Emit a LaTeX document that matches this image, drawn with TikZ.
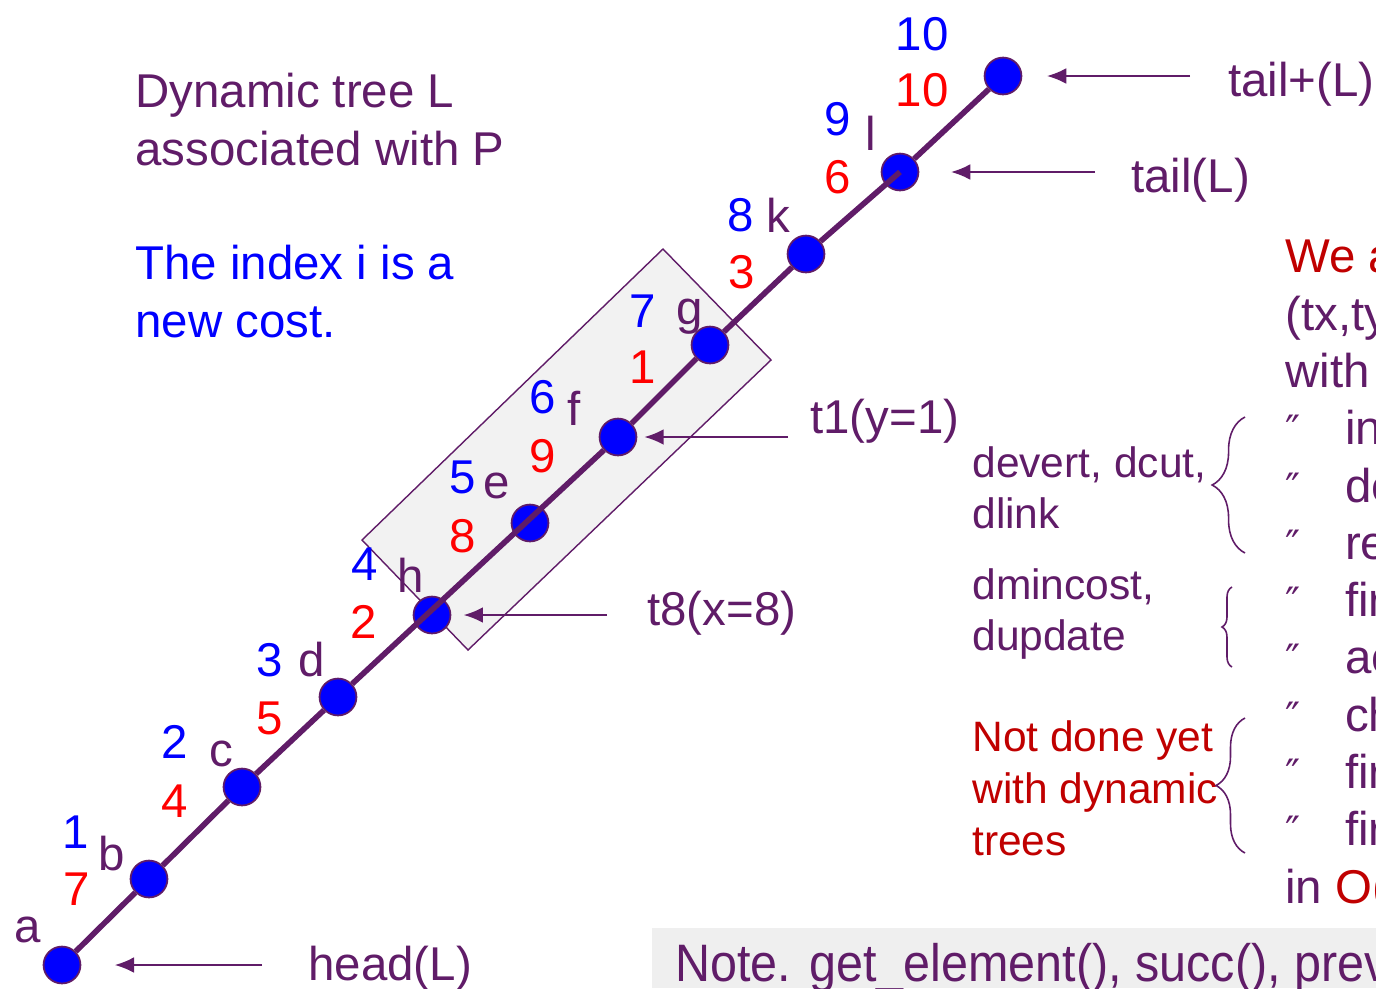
\documentclass[tikz,border=0pt]{standalone}
\usepackage{fontspec}
\setmainfont{Liberation Sans}
\newfontfamily\notefont[FakeStretch=0.92]{Liberation Sans}
\newfontfamily\symfont{DejaVu Sans}
\usetikzlibrary{arrows.meta,decorations.pathreplacing}
\definecolor{plum}{RGB}{96,28,104}
\definecolor{darkred}{RGB}{192,0,0}
\definecolor{boxgray}{RGB}{242,242,242}
\definecolor{notegray}{RGB}{239,239,239}
\newcommand{\bul}{\makebox[34pt][l]{{\symfont\fontsize{23}{23}\selectfont ″}}}

\begin{document}
\begin{tikzpicture}[x=0.02cm,y=-0.02cm,
  font=\fontsize{27}{32.6}\selectfont,
  vertex/.style={circle,fill=blue,draw=plum,line width=1pt,minimum size=21pt,inner sep=0pt},
  edgeline/.style={plum,line width=3.2pt},
  pointer/.style={plum,line width=1.2pt,-{Latex[length=11pt,width=9pt]}},
  txt/.style={inner sep=0pt,anchor=base west,align=left,text=plum},
  idx/.style={inner sep=0pt,anchor=base,text=blue},
  cost/.style={inner sep=0pt,anchor=base,text=red},
  lbl/.style={inner sep=0pt,anchor=base,text=plum},
  curly/.style={plum,line width=0.9pt,decorate,decoration={brace,amplitude=#1}}]
\useasboundingbox (0,0) rectangle (1376,988);
\clip (0,0) rectangle (1376,988);

% the selected part of the path
\filldraw[fill=boxgray,draw=plum,line width=0.8pt]
  (663,249) -- (771,360) -- (468,650) -- (362,540) -- cycle;

% vertices of the path
\node[vertex] (a) at (62,965) {};
\node[vertex] (b) at (149,879) {};
\node[vertex] (c) at (242,787) {};
\node[vertex] (d) at (338,697) {};
\node[vertex] (h) at (432,615) {};
\node[vertex] (e) at (530,523) {};
\node[vertex] (f) at (618,437) {};
\node[vertex] (g) at (710,345) {};
\node[vertex] (k) at (806,254) {};
\node[vertex] (l) at (900,172) {};
\node[vertex] (tp) at (1003,76) {};

\draw[edgeline] (a) -- (b);
\draw[edgeline] (b) -- (c);
\draw[edgeline] (c) -- (d);
\draw[edgeline] (d) -- (f);
\draw[edgeline] (f) -- (g);
\draw[edgeline] (g) -- (k);
\draw[edgeline] (k) -- (l.center);
\draw[edgeline] (l) -- (tp);

% names, indices and costs
\node[lbl] (na) at (28,942) {a};
\node[idx] (ib) at (76,848) {1};
\node[cost] (cb) at (77,905) {7};
\node[lbl] (nb) at (112,870) {b};
\node[idx] (ic) at (175,758) {2};
\node[cost] (cc) at (175,817) {4};
\node[lbl] (nc) at (221,766) {c};
\node[idx] (id) at (270,676) {3};
\node[cost] (cd) at (270,734) {5};
\node[lbl] (nd) at (312,676) {d};
\node[idx] (ih) at (365,580) {4};
\node[cost] (ch) at (364,638) {2};
\node[lbl] (nh) at (411,592) {h};
\node[idx] (ie) at (463,493) {5};
\node[cost] (ce) at (463,552) {8};
\node[lbl] (ne) at (497,498) {e};
\node[idx] (if) at (543,413) {6};
\node[cost] (cf) at (543,472) {9};
\node[lbl] (nf) at (574,425) {f};
\node[idx] (ig) at (643,327) {7};
\node[cost] (cg) at (643,383) {1};
\node[lbl] (ng) at (690,324) {g};
\node[idx] (ik) at (741,231) {8};
\node[cost] (ck) at (742,288) {3};
\node[lbl] (nk) at (778,232) {k};
\node[idx] (il) at (838,135) {9};
\node[cost] (cl) at (838,193) {6};
\node[lbl] (nl) at (871,150) {l};
\node[idx] (itp) at (922,50) {10};
\node[cost] (ctp) at (922,106) {10};

% pointers
\node[txt] (head) at (308,980) {head(L)};
\coordinate (headp) at (262,965);
\draw[pointer,shorten >=19pt] (headp) -- (a);
\node[txt] (teight) at (647,625) {t8(x=8)};
\coordinate (teightp) at (607,615);
\draw[pointer,shorten >=7pt] (teightp) -- (h);
\node[txt] (tone) at (810,433) {t1(y=1)};
\coordinate (tonep) at (788,437);
\draw[pointer,shorten >=4pt] (tonep) -- (f);
\node[txt] (tail) at (1131,192) {tail(L)};
\coordinate (tailp) at (1095,172);
\draw[pointer,shorten >=18pt] (tailp) -- (l);
\node[txt] (tailplus) at (1228,96) {tail+(L)};
\coordinate (tailplusp) at (1190,76);
\draw[pointer,shorten >=14pt] (tailplusp) -- (tp);

% captions
\node[txt] (title) at (135,165) {Dynamic tree L\\associated with P};
\node[txt,text=blue] (index) at (135,337) {The index i is a\\new cost.};

\node[txt,font=\fontsize{24.2}{29}\selectfont] (dops) at (972,528) {devert, dcut,\\dlink};
\node[txt,font=\fontsize{24.2}{29}\selectfont] (dmin) at (972,650) {dmincost,\\dupdate};
\node[txt,text=darkred,font=\fontsize{24.2}{29.5}\selectfont] (notyet) at (972,855) {Not done yet\\with dynamic\\trees};

\draw[curly=18.7pt] (1245,553) -- (1245,417);
\draw[curly=5.7pt] (1232,667) -- (1232,587);
\draw[curly=16.5pt] (1245,853) -- (1245,718);

\node[txt] (ops) at (1285,903) {\textcolor{darkred}{We a}\\(tx,ty\\with\\
  \bul in\\\bul de\\\bul re\\\bul fir\\\bul ac\\\bul ch\\\bul fir\\\bul fir\\
  in \textcolor{darkred}{O(}};

% note at the bottom
\fill[notegray] (652,928) rectangle (1376,988);
\node[txt,font=\notefont\fontsize{30}{36}\selectfont] (note) at (675,981) {Note. get\_element(), succ(), prev};
\end{tikzpicture}
\end{document}
